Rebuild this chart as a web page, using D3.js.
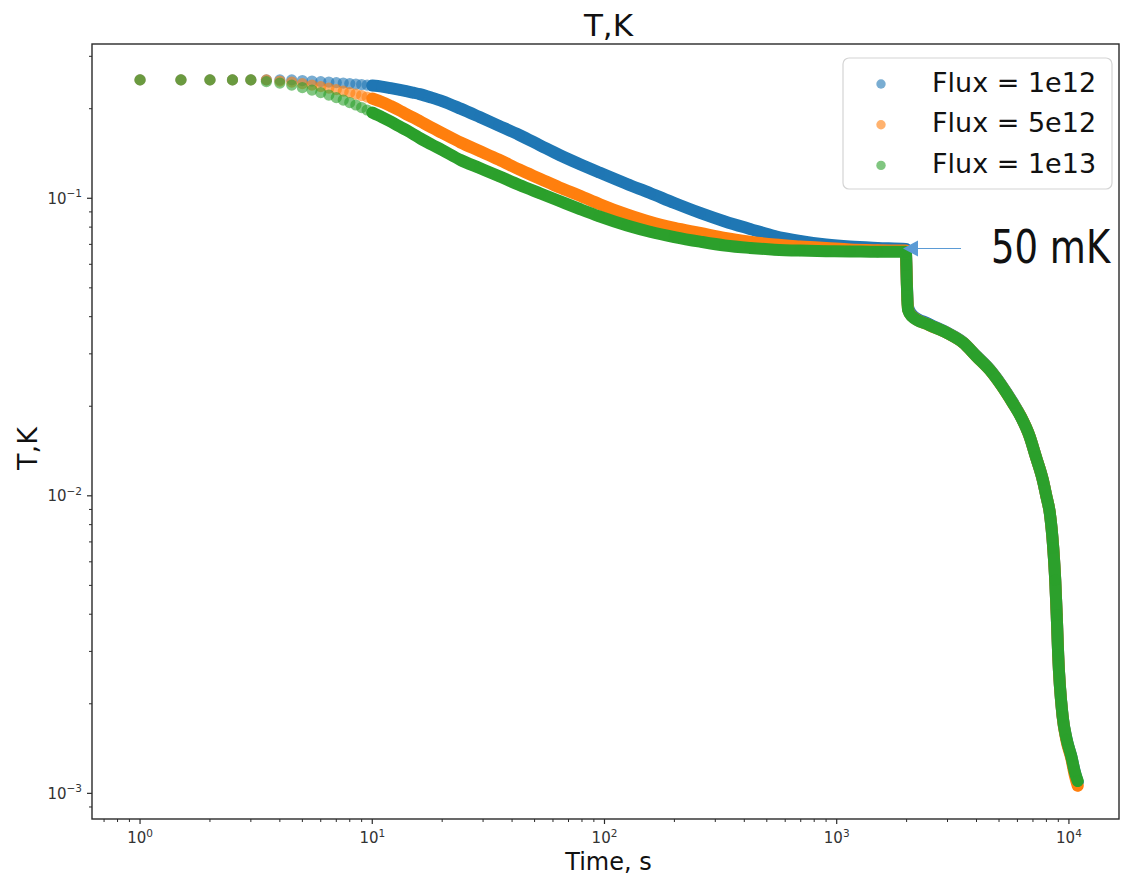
<!DOCTYPE html>
<html><head><meta charset="utf-8">
<script src="https://cdn.jsdelivr.net/npm/d3@7"></script>
<style>html,body{margin:0;padding:0;background:#fff;} svg{display:block;}</style>
</head><body>
<svg id="chart" width="1125" height="878"></svg>
<script>
// ---------------- data ----------------
const seriesNames  = ["Flux = 1e12", "Flux = 5e12", "Flux = 1e13"];
const seriesColors = ["#1f77b4", "#ff7f0e", "#2ca02c"];

// sample times, s (first ones are the individually visible 0.5 s samples)
const time = [1,1.5,2,2.5,3,3.5,4,4.5,5,5.5,6,6.5,7,7.5,8,8.5,9,9.5,10,
  11,12,13,14,15,16,18,20,24,29,35,43,53,64,78,95,125,157,200,258,330,423,540,694,900,1139,1500,1984,
  1995,2005,2015,2030,2100,2500,3000,3500,4000,4560,5100,5730,6200,6780,7200,7720,8000,8270,8560,8730,8860,8990,9400,9770,10240,10600,10910];

const tempFlux1e12 = [0.250,0.250,0.250,0.250,0.250,0.250,0.250,0.250,0.2487,0.2477,0.2467,0.2458,0.2448,0.2439,0.2429,0.2420,0.2411,0.2401,0.2392,
  0.2373,0.2346,0.2319,0.2292,0.2265,0.2239,0.2179,0.2121,0.2001,0.1875,0.1755,0.1632,0.1504,0.1398,0.1304,0.1221,0.1117,0.1042,0.0964,0.0893,0.0836,0.0789,0.0747,0.0719,0.0699,0.0688,0.0681,0.0676,
  0.0602,0.0520,0.0468,0.0430,0.0408,0.0378,0.0353,0.0328,0.0295,0.0266,0.0237,0.0206,0.0185,0.0158,0.01355,0.0113,0.00995,0.00877,0.00668,0.00521,0.00398,0.00292,0.00181,0.00152,0.00133,0.00118,0.00109];

const tempFlux5e12 = [0.250,0.250,0.250,0.250,0.250,0.250,0.2477,0.2458,0.2429,0.2401,0.2373,0.2346,0.2319,0.2292,0.2265,0.2239,0.2214,0.2189,0.2164,
  0.2106,0.2042,0.1980,0.1919,0.1868,0.1818,0.1729,0.1657,0.1540,0.1442,0.1350,0.1249,0.1161,0.1087,0.1022,0.0957,0.0882,0.0833,0.0795,0.0765,0.0736,0.0715,0.0699,0.0689,0.0681,0.0673,0.0669,0.0667,
  0.0598,0.0513,0.0458,0.0423,0.0403,0.0375,0.0352,0.0327,0.0294,0.0265,0.0236,0.0205,0.0185,0.0158,0.01355,0.0113,0.00995,0.00877,0.00668,0.00521,0.00398,0.00292,0.00180,0.00150,0.00131,0.00115,0.00106];

const tempFlux1e13 = [0.250,0.250,0.250,0.250,0.250,0.2467,0.2439,0.2401,0.2356,0.2311,0.2265,0.2223,0.2179,0.2139,0.2098,0.2058,0.2018,0.1980,0.1942,
  0.1875,0.1811,0.1749,0.1696,0.1644,0.1594,0.1516,0.1453,0.1345,0.1264,0.1188,0.1108,0.1038,0.0979,0.0921,0.0869,0.0810,0.0772,0.0741,0.0715,0.0694,0.0681,0.0672,0.0667,0.0664,0.0663,0.0661,0.0661,
  0.0597,0.0511,0.0455,0.0421,0.0402,0.0375,0.0352,0.0327,0.0294,0.0265,0.0236,0.0205,0.01847,0.0158,0.01355,0.0113,0.00995,0.00877,0.00668,0.00521,0.00398,0.00292,0.00181,0.00152,0.00133,0.00118,0.00110];

const seriesTemps = [tempFlux1e12, tempFlux5e12, tempFlux1e13];

// samples after this time are too dense to separate: drawn as a continuous trace
const denseFrom = 10;

// axis text
const titleText = "T,K";
const xLabelText = "Time, s";
const yLabelText = "T,K";
const xDomain = [0.621, 16430];
const yDomain = [0.00082, 0.330];

// annotation
const annotTime = 1930, annotTemp = 0.0678, annotText = "50 mK";

// ---------------- drawing ----------------
const svg = d3.select("#chart");
const W = 1125, H = 878;
const plot = {left: 92, right: 1119, top: 44, bottom: 819};
const FONT = "'DejaVu Sans', sans-serif";

const x = d3.scaleLog().domain(xDomain).range([plot.left, plot.right]);
const y = d3.scaleLog().domain(yDomain).range([plot.bottom, plot.top]);

svg.append("rect").attr("width", W).attr("height", H).attr("fill", "#fff");

svg.append("defs").append("clipPath").attr("id", "clip")
  .append("rect").attr("x", plot.left).attr("y", plot.top)
  .attr("width", plot.right - plot.left).attr("height", plot.bottom - plot.top);

const gData = svg.append("g").attr("clip-path", "url(#clip)");

const lineGen = d3.line()
  .x(d => x(d.t)).y(d => y(d.v))
  .curve(d3.curveMonotoneX);

seriesTemps.forEach((temps, i) => {
  const pts = time.map((t, j) => ({t, v: temps[j]}));
  const dense = pts.filter(p => p.t >= denseFrom);
  gData.append("path")
    .datum(dense)
    .attr("d", lineGen)
    .attr("fill", "none")
    .attr("stroke", seriesColors[i])
    .attr("stroke-width", 12)
    .attr("stroke-linecap", "round")
    .attr("stroke-linejoin", "round");
  gData.append("g").selectAll("circle")
    .data(pts).join("circle")
    .attr("cx", d => x(d.t)).attr("cy", d => y(d.v))
    .attr("r", 5.6)
    .attr("fill", seriesColors[i])
    .attr("fill-opacity", 0.6);
});

function logTicks(scale) {
  const d = scale.domain().slice().sort((a, b) => a - b);
  const out = [];
  for (let k = Math.floor(Math.log10(d[0])); k <= Math.ceil(Math.log10(d[1])); k++) {
    for (let m = 1; m <= 9; m++) {
      const v = m * Math.pow(10, k);
      if (v >= d[0] && v <= d[1]) out.push({v, k, major: m === 1});
    }
  }
  return out;
}
const axisColor = "#2a2a2a";
const gAx = svg.append("g");

function expLabel(sel, k) {
  sel.append("tspan").text("10");
  sel.append("tspan").attr("dy", -6.5).attr("font-size", 10.5)
    .text(k < 0 ? "\u2212" + (-k) : String(k));
}

logTicks(x).forEach(tk => {
  const px = x(tk.v);
  gAx.append("line").attr("x1", px).attr("x2", px)
    .attr("y1", plot.bottom).attr("y2", plot.bottom + (tk.major ? 5 : 3))
    .attr("stroke", axisColor).attr("stroke-width", tk.major ? 1.2 : 1);
  if (tk.major) {
    const t = gAx.append("text").attr("x", px).attr("y", plot.bottom + 24)
      .attr("text-anchor", "middle").attr("font-family", FONT)
      .attr("font-size", 15).attr("fill", "#333");
    expLabel(t, tk.k);
  }
});
logTicks(y).forEach(tk => {
  const py = y(tk.v);
  gAx.append("line").attr("x1", plot.left).attr("x2", plot.left - (tk.major ? 5 : 3))
    .attr("y1", py).attr("y2", py)
    .attr("stroke", axisColor).attr("stroke-width", tk.major ? 1.2 : 1);
  if (tk.major) {
    const t = gAx.append("text").attr("x", plot.left - 10).attr("y", py + 5.5)
      .attr("text-anchor", "end").attr("font-family", FONT)
      .attr("font-size", 15).attr("fill", "#333");
    expLabel(t, tk.k);
  }
});

svg.append("rect").attr("x", plot.left).attr("y", plot.top)
  .attr("width", plot.right - plot.left).attr("height", plot.bottom - plot.top)
  .attr("fill", "none").attr("stroke", axisColor).attr("stroke-width", 1.4);

const cx = (plot.left + plot.right) / 2;
svg.append("text").attr("x", cx + 3).attr("y", 36).attr("text-anchor", "middle")
  .attr("font-family", FONT).attr("font-size", 31).attr("fill", "#111").text(titleText);
svg.append("text").attr("x", cx + 3).attr("y", 870).attr("text-anchor", "middle")
  .attr("font-family", FONT).attr("font-size", 24).attr("fill", "#111").text(xLabelText);
svg.append("text").attr("transform", `translate(37,${(plot.top + plot.bottom) / 2 + 17}) rotate(-90)`)
  .attr("text-anchor", "middle")
  .attr("font-family", FONT).attr("font-size", 27).attr("fill", "#111").text(yLabelText);

// legend
const lg = svg.append("g");
lg.append("rect").attr("x", 843).attr("y", 58).attr("width", 269).attr("height", 131).attr("rx", 6)
  .attr("fill", "#fff").attr("fill-opacity", 0.85).attr("stroke", "#d4d4d4").attr("stroke-width", 1.2);
seriesNames.forEach((name, i) => {
  const ly = 84 + i * 40.7;
  lg.append("circle").attr("cx", 881).attr("cy", ly).attr("r", 4.7)
    .attr("fill", seriesColors[i]).attr("fill-opacity", 0.6);
  lg.append("text").attr("x", 932).attr("y", ly + 7.5).attr("font-family", FONT)
    .attr("font-size", 27).attr("fill", "#111").text(name);
});

// annotation arrow + label
const ax = x(annotTime), ay = y(annotTemp);
const annColor = "#5b9bd5";
svg.append("line").attr("x1", ax + 14).attr("x2", ax + 58).attr("y1", ay).attr("y2", ay)
  .attr("stroke", annColor).attr("stroke-width", 1.2);
svg.append("path")
  .attr("d", `M${ax},${ay} L${ax + 15},${ay - 8} L${ax + 15},${ay + 8} Z`)
  .attr("fill", annColor);
svg.append("text")
  .attr("transform", `translate(${ax + 88},${ay + 15}) scale(1,1.23)`)
  .attr("font-family", FONT)
  .attr("font-size", 37)
  .attr("fill", "#111").text(annotText);
</script>
</body></html>
